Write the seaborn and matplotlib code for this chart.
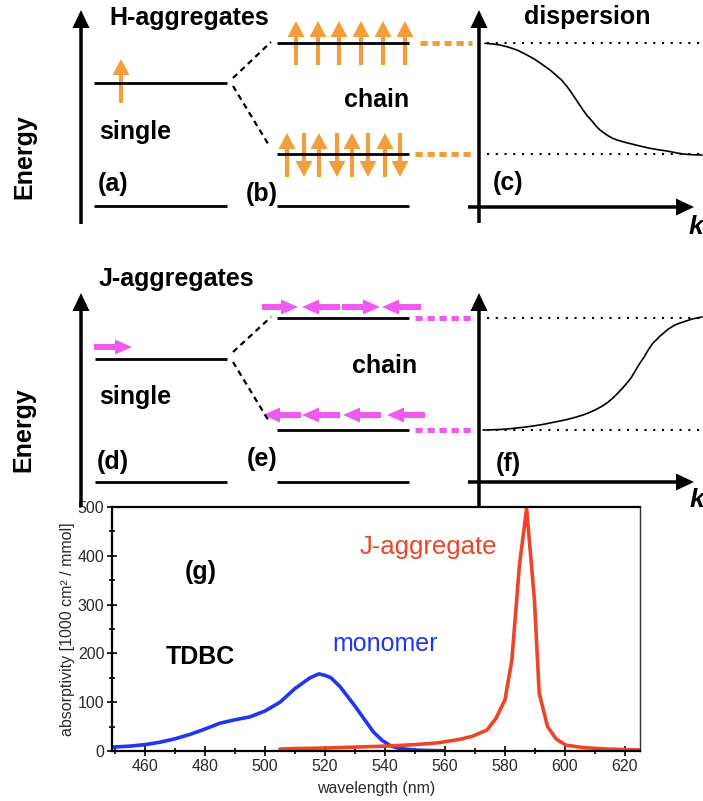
import numpy as np
import pandas as pd
import matplotlib
matplotlib.use("Agg")
import matplotlib.pyplot as plt
from matplotlib.patches import FancyArrow
from matplotlib.ticker import MultipleLocator
import seaborn as sns

# ---------------- data: absorption spectra of TDBC ----------------
mono_wl = [449, 455, 460, 465, 470, 475, 480, 485, 490, 495, 500, 505, 510, 515,
           518, 520, 522, 525, 528, 530, 533, 536, 539, 542, 545, 550, 555, 560]
mono_abs = [8, 10, 13, 18, 25, 34, 45, 57, 64, 70, 82, 100, 128, 150,
            158, 155, 150, 132, 108, 92, 66, 40, 22, 10, 5, 2, 1, 0.5]

jagg_wl = [505, 510, 520, 530, 540, 550, 558, 565, 569, 574, 577, 580, 582.3,
           584.8, 587.2, 589.8, 591.4, 594.2, 597, 600.3, 606, 614, 620, 625]
jagg_abs = [4, 5, 6, 8, 10, 13, 17, 24, 30, 43, 67, 105, 187,
            380, 497, 311, 118, 50, 25, 12, 7, 4, 3, 2]

x_ticks = [460, 480, 500, 520, 540, 560, 580, 600, 620]
y_ticks = [0, 100, 200, 300, 400, 500]

# schematic dispersion curves (screen units of the sketch)
disp_h_k = [485, 493, 500, 508, 517, 525, 533, 538, 543, 550, 557, 562, 567, 571, 575, 579,
            583, 587, 592, 596, 600, 604, 608, 612, 617, 625, 633, 642, 650, 658, 667, 675,
            683, 692, 702]
disp_h_E = [43.3, 44, 45, 47, 50, 54, 58.3, 61.5, 65, 70, 76, 80.5, 86.5, 92, 98, 104,
            110, 115.5, 121, 126, 130, 133, 135.7, 138, 140, 142.3, 144.3, 146.5, 148.3, 149.7, 151, 152.6,
            154, 154.7, 155]
disp_j_k = [483, 492, 500, 508, 517, 525, 533, 542, 550, 558, 567, 575, 583, 589, 595, 601,
            607, 612, 617, 622, 627, 631, 634, 637, 640, 644, 647, 650, 653, 657, 660, 664,
            667, 671, 675, 679, 683, 688, 692, 697, 702]
disp_j_E = [430, 429.8, 429.5, 428.9, 428, 427.1, 426, 424.6, 423, 421.4, 419.5, 417.4, 415, 412.7, 410, 406.8,
            403, 398.8, 394, 388.7, 383, 378, 373, 368, 363, 357.3, 352, 347.3, 343, 339.2, 336, 332.8,
            330, 327.4, 325, 323.4, 322, 320.4, 319, 318, 317]

sns.set_style("ticks")
plt.rcParams['font.family'] = ['Liberation Sans', 'DejaVu Sans']
plt.rcParams['text.color'] = 'black'

ORANGE = '#F39E3C'
MAGENTA = '#F05AF0'
RED = '#EE4428'
BLUE = '#2236EE'

fig = plt.figure(figsize=(7.03, 8.01), dpi=100)

# ---------------- spectrum panel (g) ----------------
sp = fig.add_axes([112 / 703, 50 / 801, 528 / 703, 244 / 801])
df_m = pd.DataFrame({'wavelength': mono_wl, 'absorptivity': mono_abs})
df_j = pd.DataFrame({'wavelength': jagg_wl, 'absorptivity': jagg_abs})
sns.lineplot(data=df_m, x='wavelength', y='absorptivity', ax=sp, color=BLUE, lw=2.6)
sns.lineplot(data=df_j, x='wavelength', y='absorptivity', ax=sp, color=RED, lw=2.6)
sp.set_xlim(449, 625)
sp.set_ylim(0, 500)
sp.set_xticks(x_ticks)
sp.set_yticks(y_ticks)
sp.xaxis.set_minor_locator(MultipleLocator(10))
sp.yaxis.set_minor_locator(MultipleLocator(50))
sp.tick_params(which='major', direction='inout', length=7, width=1.4,
               labelsize=11.5, labelcolor='#2a2a2a', pad=2)
sp.tick_params(which='minor', direction='inout', length=4, width=1.4)
for s in ['left', 'bottom', 'top']:
    sp.spines[s].set_linewidth(1.6)
    sp.spines[s].set_color('black')
sp.spines['right'].set_linewidth(1.0)
sp.spines['right'].set_color('#333333')
sp.set_xlabel('wavelength (nm)', fontsize=11.5, color='#2a2a2a')
sp.set_ylabel('absorptivity [1000 cm² / mmol]', fontsize=11.5, color='#2a2a2a')
sp.xaxis.set_label_coords(0.5, -0.125)
sp.yaxis.set_label_coords(-0.07, 0.5)
sp.text(554.3, 418, 'J-aggregate', color=RED, fontsize=18.5, ha='center', va='center')
sp.text(540, 219, 'monomer', color=BLUE, fontsize=18, ha='center', va='center')
sp.text(478.3, 193, 'TDBC', color='black', fontsize=18, fontweight='bold', ha='center', va='center')
sp.text(478.7, 367, '(g)', color='black', fontsize=18, fontweight='bold', ha='center', va='center')

# ---------------- schematic overlay (pixel units) ----------------
ov = fig.add_axes([0, 0, 1, 1], zorder=5)
ov.set_xlim(0, 703)
ov.set_ylim(801, 0)
ov.axis('off')
ov.patch.set_alpha(0)


def arrow(x0, y0, x1, y1, color, width, hw, hl, z=3):
    ov.add_patch(FancyArrow(x0, y0, x1 - x0, y1 - y0, width=width, head_width=hw,
                            head_length=hl, length_includes_head=True,
                            facecolor=color, edgecolor='none', lw=0, zorder=z))


def level(x0, x1, y):
    ov.plot([x0, x1], [y, y], color='black', lw=2.0, solid_capstyle='butt', zorder=4)


def dashed(x0, y0, x1, y1):
    ov.plot([x0, x1], [y0, y1], color='black', lw=1.6, dashes=(2.6, 2.0), zorder=4)


def dotted_color(x0, x1, y, color):
    ov.plot([x0, x1], [y, y], color=color, lw=3.6, dashes=(1.45, 0.95),
            dash_capstyle='butt', zorder=3)


def dotted_black(x0, x1, y):
    ov.plot([x0, x1], [y, y], color='black', lw=1.5, dashes=(1, 3.2), zorder=2)


def btext(x, y, s, size=18, **kw):
    ov.text(x, y, s, ha='center', va='center', fontsize=size, fontweight='bold',
            color='black', **kw)


# energy axes
arrow(81, 224, 81, 10, 'black', 3.5, 17, 18)
arrow(81, 507, 81, 293, 'black', 3.5, 17, 18)
btext(24, 157, 'Energy', rotation=90)
btext(23, 430, 'Energy', rotation=90)

# --- H aggregates ---
btext(189, 18, 'H-aggregates')
level(94, 227, 83)
level(94, 227, 206)
arrow(121, 103, 121, 59, ORANGE, 4.2, 17, 16)
btext(135, 132, 'single')
btext(113, 184, '(a)')
btext(262, 194, '(b)')
level(277, 409, 43)
level(277, 409, 154)
level(277, 409, 206)
dashed(233, 78, 271, 42)
dashed(233, 86, 270, 147)
for xa in [296, 318, 339, 361, 383, 405]:
    arrow(xa, 65, xa, 21, ORANGE, 4.2, 17, 16)
for i, xa in enumerate([287, 304, 319, 337, 352, 368, 385, 400]):
    if i % 2 == 0:
        arrow(xa, 177, xa, 133, ORANGE, 4.2, 17, 16)
    else:
        arrow(xa, 133, xa, 177, ORANGE, 4.2, 17, 16)
btext(377, 100, 'chain')
dotted_color(420, 472, 43, ORANGE)
dotted_color(415, 472, 154, ORANGE)

# panel (c)
arrow(479, 223, 479, 10, 'black', 3.5, 17, 18)
arrow(468, 207, 694, 207, 'black', 3.5, 17, 18)
dotted_black(487, 703, 43)
dotted_black(487, 703, 154)
ov.plot(disp_h_k, disp_h_E, color='black', lw=1.2, zorder=4)
btext(587, 17, 'dispersion')
btext(508, 183, '(c)')
ov.text(689, 227, 'k', fontsize=19, fontweight='bold', fontstyle='italic',
        ha='left', va='center', color='black')

# --- J aggregates ---
btext(176, 279, 'J-aggregates')
level(95, 227, 359)
level(95, 227, 482)
arrow(94, 347, 132, 347, MAGENTA, 6, 15, 17)
btext(135, 397, 'single')
btext(113, 462, '(d)')
btext(262, 459, '(e)')
level(277, 409, 318)
level(277, 409, 430)
level(277, 409, 482)
dashed(233, 352, 271, 317)
dashed(233, 362, 270, 423)
arrow(262, 307, 298, 307, MAGENTA, 6, 15, 17)
arrow(340, 307, 302, 307, MAGENTA, 6, 15, 17)
arrow(342, 307, 380, 307, MAGENTA, 6, 15, 17)
arrow(421, 307, 382, 307, MAGENTA, 6, 15, 17)
for xt in [263, 302, 343, 387]:
    arrow(xt + 38, 415, xt, 415, MAGENTA, 6, 15, 17)
btext(385, 366, 'chain')
dotted_color(415, 472, 318, MAGENTA)
dotted_color(415, 472, 430, MAGENTA)

# panel (f)
arrow(479, 507, 479, 293, 'black', 3.5, 17, 18)
arrow(468, 482, 694, 482, 'black', 3.5, 17, 18)
dotted_black(487, 703, 318)
dotted_black(487, 703, 430)
ov.plot(disp_j_k, disp_j_E, color='black', lw=1.2, zorder=4)
btext(508, 464, '(f)')
ov.text(690, 500, 'k', fontsize=19, fontweight='bold', fontstyle='italic',
        ha='left', va='center', color='black')

fig.savefig('out.png', dpi=100)
